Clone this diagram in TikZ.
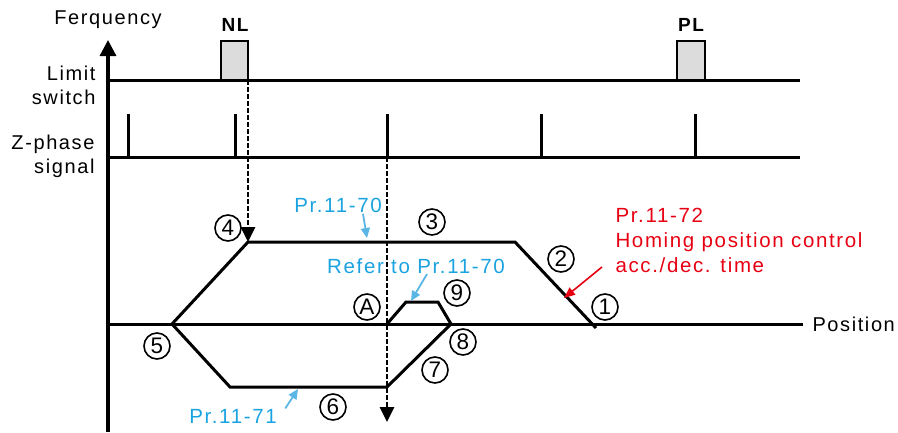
\documentclass[tikz,border=0pt]{standalone}
\usepackage{fontspec}
\setmainfont{Liberation Sans}[LetterSpace=8]
\definecolor{PrBlue}{HTML}{1AA3E0}
\definecolor{ArrBlue}{HTML}{5BB5E5}
\definecolor{PrRed}{HTML}{E60012}
\definecolor{SwGray}{HTML}{DCDCDC}
\usetikzlibrary{arrows.meta,positioning}

\tikzset{
  sig/.style={line width=3pt},
  lbl/.style={font=\fontsize{20}{24}\selectfont, align=right},
  num/.style={circle, draw, line width=1.6pt, minimum size=26pt, inner sep=0pt,
              font=\fontsize{22.5}{22}\selectfont},
  parblue/.style={text=PrBlue, font=\fontsize{20.5}{22}\selectfont},
  parred/.style={text=PrRed, font=\fontsize{20.5}{25}\selectfont, align=left},
  parr/.style={ArrBlue, line width=1.8pt, -{Triangle[width=9pt,length=10pt]}},
  dashline/.style={line width=2.8pt, dash pattern=on 4.5pt off 2.5pt,
                   -{Triangle[width=14pt,length=15pt]}},
  swbox/.style={draw, fill=SwGray, line width=2.4pt}
}

\begin{document}
\begin{tikzpicture}[x=1pt,y=-1pt]
  \useasboundingbox (0,0) rectangle (898,432);

  % axis and row labels
  \coordinate (axbot) at (108,432);
  \coordinate (axtop) at (108,40);
  \draw[line width=3.2pt,-{Triangle[width=16pt,length=16pt]}] (axbot) -- (axtop);
  \node[lbl] (freq) at (108,20) {Ferquency};
  \node[lbl,anchor=east] (limit) at (99,85) {Limit\\switch};
  \node[lbl,anchor=east] (zphase) at (98,156) {Z-phase\\signal};

  % limit switch row
  \draw[sig] (110,80) -- (800,80);
  \draw[swbox] (221,80) rectangle (248,41);
  \draw[swbox] (677,80) rectangle (705,41);
  \node[font=\bfseries\fontsize{19}{19}\selectfont] (nl) at (235,25) {NL};
  \node[font=\bfseries\fontsize{19}{19}\selectfont] (pl) at (691,25) {PL};

  % Z-phase row
  \draw[sig] (110,157) -- (800,157);
  \foreach \x in {128,235,387,541,695}
    \draw[sig] (\x,157) -- (\x,114);

  % position axis
  \draw[sig] (108,324) -- (803,324);
  \node[lbl,anchor=west] (pos) at (809,324) {Position};

  % speed profile
  \coordinate (p5) at (172,324);
  \coordinate (p4) at (248,242);
  \coordinate (p3) at (515,242);
  \coordinate (p1) at (596,328);
  \coordinate (p6a) at (230,387);
  \coordinate (p6b) at (387,387);
  \coordinate (p8) at (451,324);
  \coordinate (p9a) at (438,302);
  \coordinate (p9b) at (406,302);
  \coordinate (pA) at (387,324);
  \draw[sig,line join=miter] (p1) -- (p3) -- (p4) -- (p5) -- (p6a) -- (p6b)
    -- (p8) -- (p9a) -- (p9b) -- (pA);

  % dashed markers
  \draw[dashline] (248,80) -- (p4);
  \draw[dashline] (387,157) -- (387,422);

  % step numbers
  \node[num] (n1) at (605,307) {1};
  \node[num] (n2) at (561,259) {2};
  \node[num] (n3) at (432,222) {3};
  \node[num] (n4) at (228,228) {4};
  \node[num] (n5) at (157,346) {5};
  \node[num] (n6) at (333,407) {6};
  \node[num] (n7) at (435,370) {7};
  \node[num] (n8) at (463,342) {8};
  \node[num] (n9) at (457,293) {9};
  \node[num] (nA) at (367,307) {A};

  % parameter notes
  \node[parblue] (pr70) at (338,205) {Pr.11-70};
  \coordinate (pr70tip) at (367,238);
  \draw[parr] ([xshift=25pt,yshift=2pt]pr70.south) -- (pr70tip);

  \node[parblue] (refer) at (416,266) {Refer to Pr.11-70};
  \coordinate (refertip) at (411,301);
  \draw[parr] ([xshift=11pt,yshift=3pt]refer.south) -- (refertip);

  \node[parblue] (pr71) at (233,416) {Pr.11-71};
  \coordinate (pr71tip) at (298,389);
  \draw[parr] ([xshift=5pt,yshift=-3pt]pr71.north east) -- (pr71tip);

  \node[parred,anchor=west] (pr72) at (612,240) {Pr.11-72\\Homing position control\\acc./dec. time};
  \coordinate (pr72tip) at (564,298);
  \draw[PrRed,line width=1.6pt,-{Triangle[width=9pt,length=11pt]}] (602,267) -- (pr72tip);
\end{tikzpicture}
\end{document}
